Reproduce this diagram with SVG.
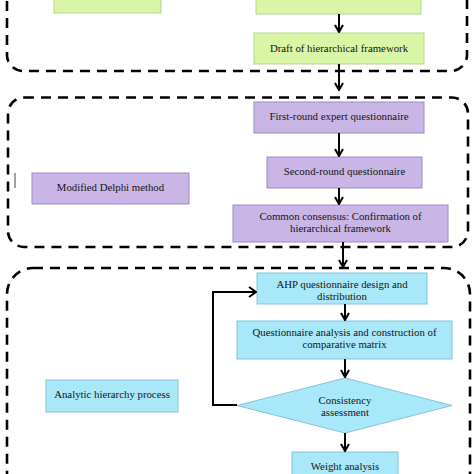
<svg xmlns="http://www.w3.org/2000/svg" width="474" height="474" viewBox="0 0 474 474">
<defs>
<style>
.region{fill:none;stroke:#000;stroke-width:2.6;stroke-dasharray:10 7}
.g{fill:#d8f6a6;stroke:#b6d58c;stroke-width:1}
.p{fill:#c9b6e7;stroke:#9b8bbd;stroke-width:1}
.c{fill:#a9e8f9;stroke:#84c3d8;stroke-width:1}
text{font-family:"Liberation Serif","Times New Roman",serif;font-size:10.8px;fill:#141414;text-anchor:middle}
.conn{fill:none;stroke:#000;stroke-width:2}
</style>
<marker id="arr" viewBox="0 0 10 10" refX="9" refY="5" markerWidth="10" markerHeight="10" orient="auto" markerUnits="userSpaceOnUse">
<polyline points="2,1 9,5 2,9" fill="none" stroke="#000" stroke-width="2"/>
</marker>
<marker id="arrh" viewBox="0 0 12 12" refX="11" refY="6" markerWidth="12" markerHeight="12" orient="auto" markerUnits="userSpaceOnUse">
<polyline points="4,1 11,6 4,11" fill="none" stroke="#000" stroke-width="2"/>
</marker>
</defs>
<rect width="474" height="474" fill="#fff"/>
<g id="regions">
<rect class="region" x="7" y="-40" width="460" height="111" rx="16"/>
<rect class="region" x="8" y="97.5" width="460" height="149.5" rx="16"/>
<rect class="region" x="7" y="268" width="463" height="260" rx="26"/>
</g>
<g id="stray"><line x1="15" y1="173" x2="15" y2="188" stroke="#444" stroke-width="1"/></g>
<g id="n-top-left"><rect class="g" x="54" y="-20" width="107" height="33"/></g>
<g id="n-top-right"><rect class="g" x="256" y="-20" width="165" height="34"/></g>
<g id="n-draft"><rect class="g" x="254" y="33" width="170" height="31"/><text x="339" y="52">Draft of hierarchical framework</text></g>
<g id="n-first"><rect class="p" x="254" y="102" width="170" height="31"/><text x="339" y="120">First-round expert questionnaire</text></g>
<g id="n-second"><rect class="p" x="267" y="157" width="155" height="31"/><text x="344.5" y="175">Second-round questionnaire</text></g>
<g id="n-consensus"><rect class="p" x="233" y="205" width="215" height="37"/><text x="340.5" y="220">Common consensus: Confirmation of</text><text x="340.5" y="231.5">hierarchical framework</text></g>
<g id="n-delphi"><rect class="p" x="32" y="173" width="157" height="31"/><text x="110.5" y="191">Modified Delphi method</text></g>
<g id="n-ahp"><rect class="c" x="257" y="273" width="170" height="31"/><text x="342" y="288">AHP questionnaire design and</text><text x="342" y="299.5">distribution</text></g>
<g id="n-analysis"><rect class="c" x="237" y="321" width="215" height="38"/><text x="344.5" y="336">Questionnaire analysis and construction of</text><text x="344.5" y="348">comparative matrix</text></g>
<g id="n-consistency"><polygon class="c" points="345,378 452,405.5 345,433 237,405.5"/><text x="345" y="404">Consistency</text><text x="345" y="416">assessment</text></g>
<g id="n-weight"><rect class="c" x="292" y="452" width="106" height="40"/><text x="345" y="470">Weight analysis</text></g>
<g id="n-ahpprocess"><rect class="c" x="46" y="380" width="132" height="32"/><text x="112" y="398">Analytic hierarchy process</text></g>
<g id="connectors">
<line class="conn" x1="339" y1="14" x2="339" y2="32" marker-end="url(#arr)"/>
<line class="conn" x1="339" y1="64" x2="339" y2="90" marker-end="url(#arr)"/>
<line class="conn" x1="339" y1="133" x2="339" y2="156" marker-end="url(#arr)"/>
<line class="conn" x1="339" y1="188" x2="339" y2="204" marker-end="url(#arr)"/>
<line class="conn" x1="343" y1="242" x2="343" y2="267" marker-end="url(#arr)"/>
<line class="conn" x1="345" y1="304" x2="345" y2="320" marker-end="url(#arr)"/>
<line class="conn" x1="345" y1="359" x2="345" y2="377" marker-end="url(#arr)"/>
<line class="conn" x1="345" y1="433" x2="345" y2="451" marker-end="url(#arr)"/>
<polyline class="conn" points="237,405 213,405 213,292 256,292" marker-end="url(#arrh)"/>
</g>
</svg>
